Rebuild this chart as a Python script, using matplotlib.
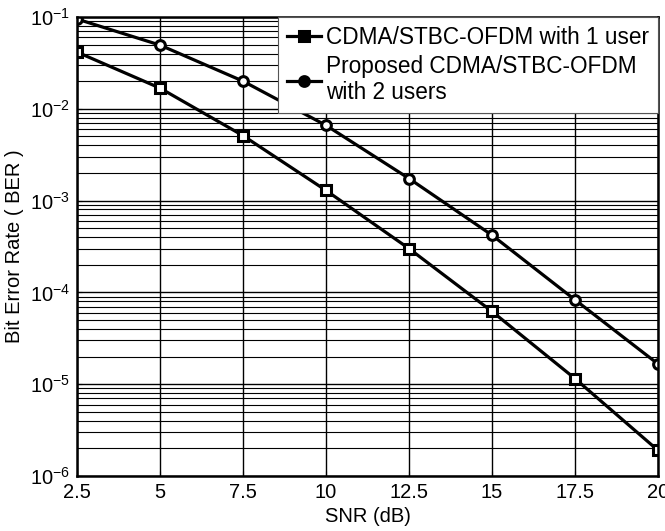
import matplotlib
matplotlib.use('Agg')
import matplotlib.pyplot as plt
from matplotlib.ticker import LogLocator, NullFormatter

snr = [2.5, 5, 7.5, 10, 12.5, 15, 17.5, 20]
ber_1user = [0.0415, 0.0168, 0.0051, 0.00129, 3.0e-4, 6.2e-5, 1.15e-5, 1.9e-6]
ber_2users = [0.095, 0.0494, 0.020, 0.0066, 0.00174, 4.2e-4, 8.3e-5, 1.66e-5]
xticks = [2.5, 5, 7.5, 10, 12.5, 15, 17.5, 20]

plt.rcParams['font.family'] = ['Liberation Sans', 'DejaVu Sans']
plt.rcParams['mathtext.fontset'] = 'custom'
plt.rcParams['mathtext.rm'] = 'Liberation Sans'
plt.rcParams['mathtext.it'] = 'Liberation Sans'

fig = plt.figure(figsize=(6.65, 5.31), dpi=100)
ax = fig.add_axes([0.1158, 0.1036, 0.8737, 0.8644])

ax.semilogy(snr, ber_1user, 'k-s', lw=2.3, ms=7, mfc='white', mew=2.2,
            label='CDMA/STBC-OFDM with 1 user')
ax.semilogy(snr, ber_2users, 'k-o', lw=2.3, ms=7, mfc='white', mew=2.2,
            label='Proposed CDMA/STBC-OFDM\nwith 2 users')

ax.set_xlim(2.5, 20)
ax.set_ylim(1e-6, 1e-1)
ax.set_xticks(xticks)
ax.set_xticklabels(['2.5', '5', '7.5', '10', '12.5', '15', '17.5', '20'])
ax.yaxis.set_major_locator(LogLocator(base=10, numticks=10))
ax.yaxis.set_minor_locator(LogLocator(base=10, subs=range(2, 10), numticks=20))
ax.yaxis.set_minor_formatter(NullFormatter())

ax.grid(True, which='major', color='black', lw=1.0)
ax.grid(True, which='minor', axis='y', color='black', lw=0.8)
ax.tick_params(direction='in', which='both', labelsize=14.5, pad=5)
for s in ax.spines.values():
    s.set_linewidth(1.8)

ax.set_xlabel('SNR (dB)', fontsize=14.5, labelpad=4)
ax.set_ylabel('Bit Error Rate ( BER )', fontsize=14.5, labelpad=4)

leg = ax.legend(loc='upper right', fontsize=16.3, fancybox=False, framealpha=1,
                edgecolor='#555555', handlelength=1.5, handletextpad=0.2,
                borderaxespad=0.0, labelspacing=0.25, borderpad=0.4)
leg.get_frame().set_linewidth(0.8)
for h in leg.legend_handles:
    h.set_markerfacecolor('black')

fig.savefig('out.png', dpi=100)
